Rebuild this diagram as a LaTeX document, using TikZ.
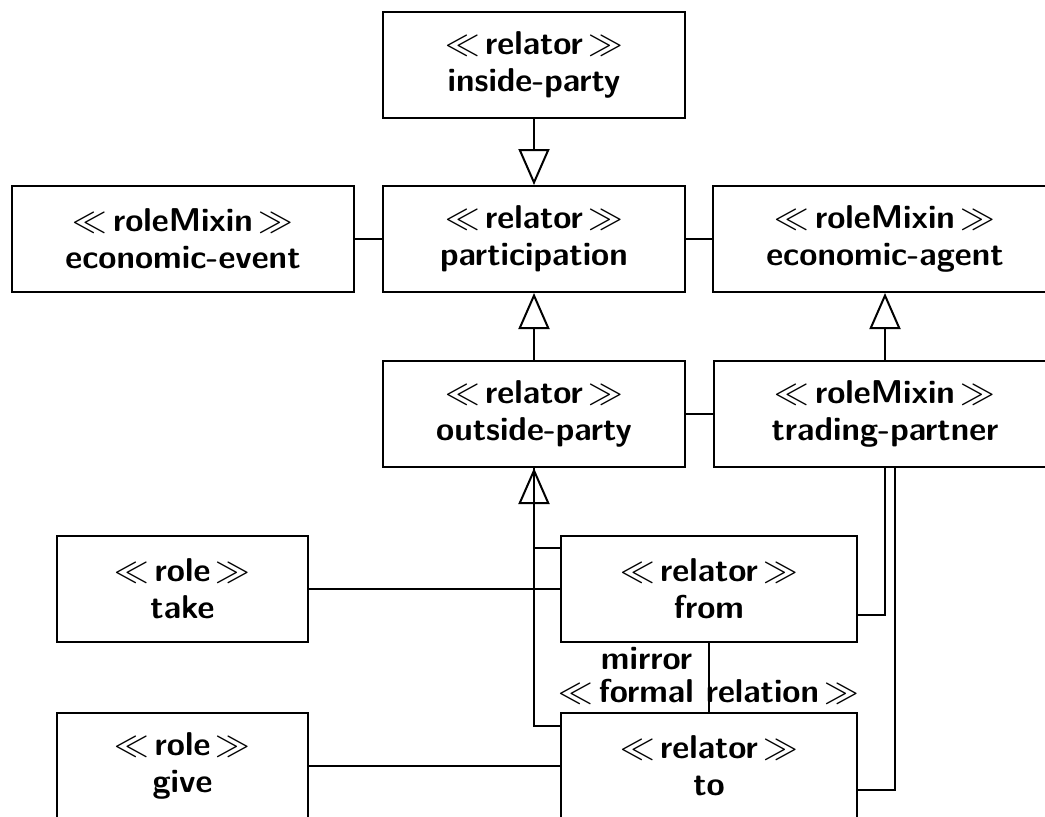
\documentclass[tikz,border=0pt]{standalone}
\usepackage{amsmath}
\usepackage{amssymb}
\usepackage{tikz}
\usetikzlibrary{arrows.meta}
\newcommand{\stereo}[1]{$\ll$\,#1\,$\gg$}

\begin{document}
\begin{tikzpicture}[x=0.5pt,y=-0.5pt,line width=1pt,
       klass/.style={draw,align=center,minimum height=53pt,inner sep=0pt,
       font=\fontsize{16.5}{18.5}\selectfont\sffamily\bfseries},
       lbl/.style={inner sep=0pt,font=\fontsize{16.5}{16.5}\selectfont\sffamily\bfseries},
       gen/.style={-{Triangle[open,width=15.5pt,length=18pt]}}]
       \useasboundingbox (0,0) rectangle (1045,816); \clip (0,0) rectangle (1045,816);
       \node[klass,minimum width=151pt] (inside) at (534,64.5) {\stereo{relator}\\inside-party};
       \node[klass,minimum width=151pt] (part) at (534,239) {\stereo{relator}\\participation};
       \node[klass,minimum width=171pt] (event) at (183,239) {\stereo{roleMixin}\\economic-event};
       \node[klass,minimum width=172pt] (agent) at (885,239) {\stereo{roleMixin}\\economic-agent};
       \node[klass,minimum width=151pt] (outside) at (534,414) {\stereo{relator}\\outside-party};
       \node[klass,minimum width=171pt] (trading) at (885,414) {\stereo{roleMixin}\\trading-partner};
       \node[klass,minimum width=125.5pt] (take) at (182.5,589) {\stereo{role}\\take};
       \node[klass,minimum width=148pt] (from) at (709,589) {\stereo{relator}\\from};
       \node[klass,minimum width=125.5pt] (give) at (182.5,765.5) {\stereo{role}\\give};
       \node[klass,minimum width=148pt] (to) at (709,765.5) {\stereo{relator}\\to};
       \draw[gen] (inside) -- (part); \draw[gen] (outside) -- (part);
       \draw[gen] (trading) -- (agent);
       \draw (event) -- (part); \draw (part) -- (agent); \draw (outside) -- (trading);
       \draw (take) -- (from); \draw (give) -- (to);
       \draw[gen] ([yshift=-7pt]to.north west) -| (outside.south);
       \draw ([yshift=-6.5pt]from.north west) -| (outside.south);
       \draw (trading.south) |- ([yshift=-13pt]from.east);
       \draw ([xshift=5pt]trading.south) |- ([yshift=-12pt]to.east);
       \draw (from) -- (to) node[lbl,midway,anchor=base,yshift=-12.5pt] (formal)
       {\stereo{formal relation}};
       \node[lbl,anchor=base east] (mirror) at ([xshift=-8pt,yshift=16.5pt]formal.base) {mirror};
\end{tikzpicture}
\end{document}
